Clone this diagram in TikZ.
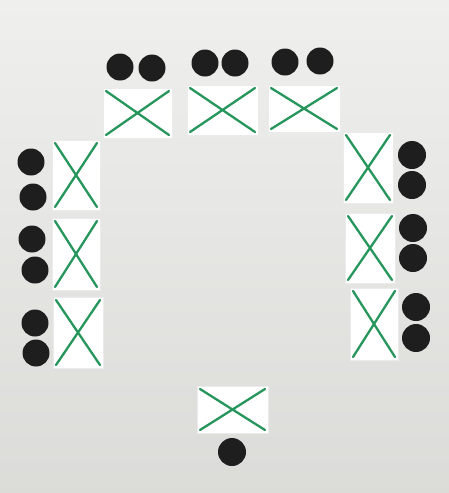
\documentclass[tikz,border=0pt]{standalone}
\usetikzlibrary{positioning}
\definecolor{marker}{RGB}{38,150,92}
\definecolor{wall}{RGB}{226,226,223}
\definecolor{ink}{RGB}{30,30,30}

\begin{document}
\begin{tikzpicture}[x=1pt, y=-1pt,
      card/.style={fill=white, inner sep=0pt, draw=black!8, thin,
                   path picture={\draw[marker, line width=2.3pt, line cap=round]
                     ([shift={(3pt,-3pt)}]path picture bounding box.north west) --
                     ([shift={(-3pt,3pt)}]path picture bounding box.south east)
                     ([shift={(-3pt,-3pt)}]path picture bounding box.north east) --
                     ([shift={(3pt,3pt)}]path picture bounding box.south west);}},
      dot/.style={circle, fill=ink, inner sep=0pt, minimum size=27pt}]

    \shade[top color=wall!55!white, bottom color=wall!97!black]
      (0,0) rectangle (449,493);
    \useasboundingbox (0,0) rectangle (449,493);

    % top row
    \node[card, minimum width=69pt, minimum height=50pt] (t1) at (137.5,113) {};
    \node[card, minimum width=71pt, minimum height=50pt] (t2) at (222.5,110) {};
    \node[card, minimum width=72pt, minimum height=47pt] (t3) at (304,108.5) {};
    \node[dot] (t1a) at (120,67) {};
    \node[dot] (t1b) at (152,68) {};
    \node[dot] (t2a) at (205,63) {};
    \node[dot] (t2b) at (235,63) {};
    \node[dot] (t3a) at (285,62) {};
    \node[dot] (t3b) at (320,61) {};

    % left column
    \node[card, minimum width=48pt, minimum height=70pt] (l1) at (76,175) {};
    \node[card, minimum width=48pt, minimum height=72pt] (l2) at (76,254) {};
    \node[card, minimum width=50pt, minimum height=71pt] (l3) at (78,332.5) {};
    \node[dot] (l1a) at (31,162) {};
    \node[dot] (l1b) at (33,197) {};
    \node[dot] (l2a) at (32,239) {};
    \node[dot] (l2b) at (35,270) {};
    \node[dot] (l3a) at (35,323) {};
    \node[dot] (l3b) at (36,353) {};

    % right column
    \node[card, minimum width=50pt, minimum height=71pt] (r1) at (368,167.5) {};
    \node[card, minimum width=50pt, minimum height=70pt] (r2) at (370,248) {};
    \node[card, minimum width=48pt, minimum height=72pt] (r3) at (374,324) {};
    \node[dot, minimum size=28pt] (r1a) at (412,155) {};
    \node[dot, minimum size=28pt] (r1b) at (412,185) {};
    \node[dot, minimum size=28pt] (r2a) at (413,228) {};
    \node[dot, minimum size=28pt] (r2b) at (413,258) {};
    \node[dot, minimum size=28pt] (r3a) at (416,307) {};
    \node[dot, minimum size=28pt] (r3b) at (416,338) {};

    % bottom
    \node[card, minimum width=71pt, minimum height=47pt] (b1) at (232.5,409.5) {};
    \node[dot, minimum size=28pt] (b1a) at (232,452) {};
  \end{tikzpicture}
\end{document}
